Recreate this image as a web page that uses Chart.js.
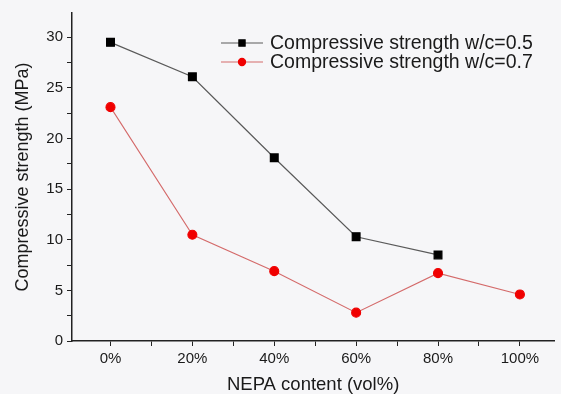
<!DOCTYPE html>
<html lang="en">
<head>
<meta charset="UTF-8">
<title>Compressive strength vs NEPA content</title>
<script src="https://cdn.jsdelivr.net/npm/chart.js"></script>
<style>
    html, body {
        margin: 0;
        padding: 0;
        background-color: #f6f6f8;
    }
    .chart-box {
        width: 561px;
        height: 394px;
    }
</style>
</head>
<body>
<div class="chart-box">
    <canvas id="strengthChart"></canvas>
</div>
<script>
    // NEPA content (vol%)
    const nepaContent = [0, 20, 40, 60, 80, 100];
    // compressive strength in MPa
    const strengthWc05 = [29.5, 26.1, 18.1, 10.3, 8.5];
    const strengthWc07 = [23.1, 10.5, 6.9, 2.8, 6.7, 4.6];
    const seriesLabels = ['Compressive strength w/c=0.5', 'Compressive strength w/c=0.7'];
    const yTickLabels = [0, 5, 10, 15, 20, 25, 30];
    const xTickLabels = [0, 20, 40, 60, 80, 100];

    const FONT = 'Liberation Sans, Arial, Helvetica, sans-serif';

    function toPoints(values) {
        return values.map((v, i) => ({ x: nepaContent[i], y: v }));
    }

    // major + minor tick positions (minor halfway between labels)
    function withMinor(labels) {
        const out = [];
        labels.forEach((v, i) => {
            out.push({ value: v });
            if (i < labels.length - 1) out.push({ value: (v + labels[i + 1]) / 2 });
        });
        return out;
    }

    // legend drawn inside the plot, Origin style
    const insideLegend = {
        id: 'insideLegend',
        afterDatasetsDraw(chart) {
            const ctx = chart.ctx;
            const rows = [43, 62];
            ctx.save();
            chart.data.datasets.forEach((ds, i) => {
                const y = rows[i];
                ctx.strokeStyle = ds.borderColor;
                ctx.lineWidth = ds.borderWidth;
                ctx.beginPath();
                ctx.moveTo(221, y);
                ctx.lineTo(263, y);
                ctx.stroke();
                ctx.fillStyle = ds.pointBackgroundColor;
                ctx.strokeStyle = ds.pointBorderColor;
                Chart.helpers.drawPoint(ctx, {
                    pointStyle: ds.pointStyle,
                    radius: ds.pointRadius * 0.8,
                    borderWidth: 1
                }, 242, y);
                ctx.fillStyle = '#1a1a1a';
                ctx.font = '19.5px ' + FONT;
                ctx.textBaseline = 'middle';
                ctx.fillText(ds.label, 270, y + 1);
            });
            ctx.restore();
        }
    };

    const ctx = document.getElementById('strengthChart').getContext('2d');
    new Chart(ctx, {
        type: 'line',
        data: {
            datasets: [
                {
                    label: seriesLabels[0],
                    data: toPoints(strengthWc05),
                    borderColor: '#5a5a5a',
                    borderWidth: 1.2,
                    pointStyle: 'rect',
                    pointRadius: 5.5,
                    pointBackgroundColor: '#000000',
                    pointBorderColor: '#000000',
                    tension: 0
                },
                {
                    label: seriesLabels[1],
                    data: toPoints(strengthWc07),
                    borderColor: '#d46a6a',
                    borderWidth: 1.1,
                    pointStyle: 'circle',
                    pointRadius: 4.5,
                    pointBackgroundColor: '#f00000',
                    pointBorderColor: '#f00000',
                    tension: 0
                }
            ]
        },
        options: {
            responsive: true,
            maintainAspectRatio: false,
            animation: false,
            layout: { padding: { top: 12, right: 0, left: 0, bottom: 0 } },
            plugins: {
                legend: { display: false },
                tooltip: { enabled: false }
            },
            scales: {
                x: {
                    type: 'linear',
                    min: -9.4,
                    max: 108.4,
                    afterBuildTicks(scale) {
                        scale.ticks = withMinor(xTickLabels);
                    },
                    afterFit(scale) { scale.height = 53; },
                    ticks: {
                        autoSkip: false,
                        maxRotation: 0,
                        padding: 4,
                        color: '#1a1a1a',
                        font: { family: FONT, size: 15 },
                        callback: v => xTickLabels.includes(v) ? v + '%' : ''
                    },
                    grid: {
                        drawOnChartArea: false,
                        drawTicks: true,
                        tickLength: 5,
                        color: '#222'
                    },
                    border: { display: true, color: '#222', width: 1.5 },
                    title: {
                        display: true,
                        text: 'NEPA content (vol%)',
                        color: '#1a1a1a',
                        font: { family: FONT, size: 18.5, lineHeight: 1 },
                        padding: { top: 2, bottom: 0 }
                    }
                },
                y: {
                    min: 0,
                    max: 32.4,
                    afterBuildTicks(scale) {
                        scale.ticks = withMinor(yTickLabels);
                    },
                    afterFit(scale) { scale.width = 72; },
                    ticks: {
                        autoSkip: false,
                        padding: 4,
                        color: '#1a1a1a',
                        font: { family: FONT, size: 15 },
                        callback: v => yTickLabels.includes(v) ? String(v) : ''
                    },
                    grid: {
                        drawOnChartArea: false,
                        drawTicks: true,
                        tickLength: 5,
                        color: '#222'
                    },
                    border: { display: true, color: '#222', width: 1.5 },
                    title: {
                        display: true,
                        text: 'Compressive strength (MPa)',
                        color: '#1a1a1a',
                        font: { family: FONT, size: 18 },
                        padding: { top: 12, bottom: 4 }
                    }
                }
            }
        },
        plugins: [insideLegend]
    });
</script>
</body>
</html>
